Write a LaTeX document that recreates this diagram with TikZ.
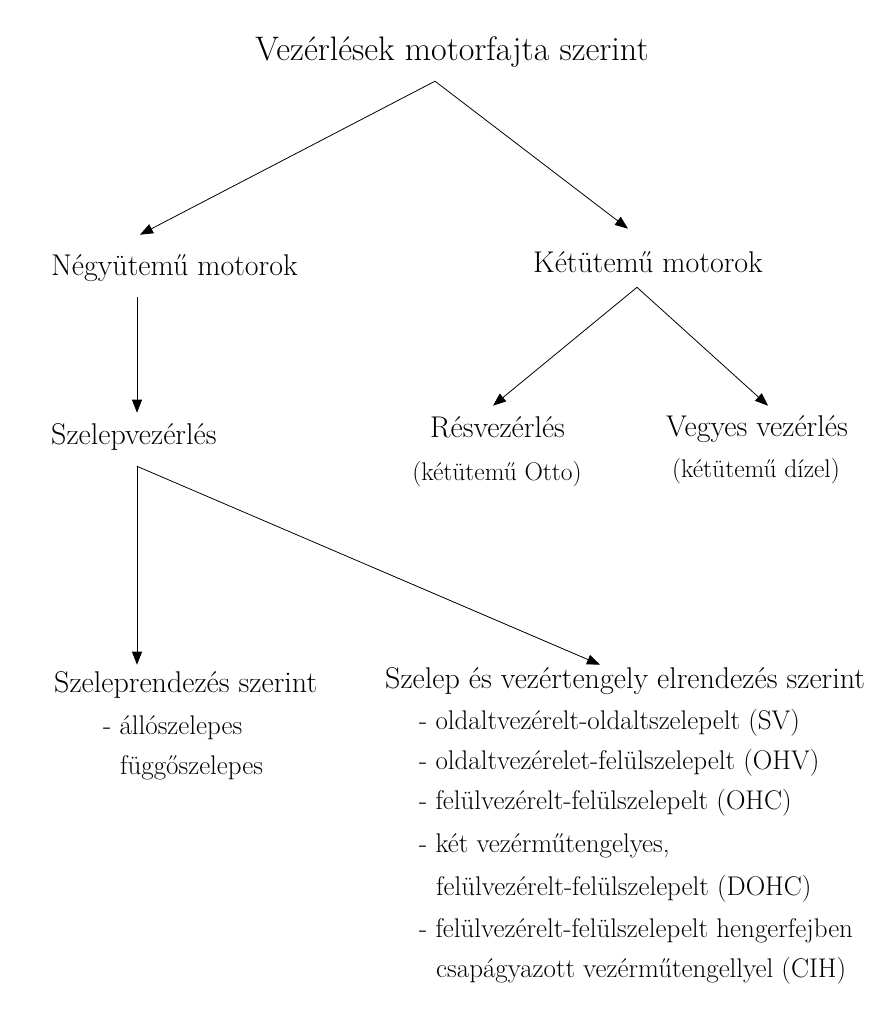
\documentclass[tikz,border=0pt]{standalone}
\usepackage{fontspec}
\usetikzlibrary{arrows.meta,calc}

\begin{document}
\begin{tikzpicture}[x=1pt, y=-1pt,
    cim/.style={inner sep=0pt, text height=24.5pt, text depth=7.5pt, font=\fontsize{34}{40}\selectfont},
    fo/.style={inner sep=0pt, text height=21.6pt, text depth=6.6pt, anchor=west, font=\fontsize{30}{36}\selectfont},
    al/.style={inner sep=0pt, text height=19.4pt, text depth=5.9pt, anchor=west, font=\fontsize{27}{32}\selectfont},
    zar/.style={inner sep=0pt, text height=18.4pt, text depth=5.6pt, font=\fontsize{25.5}{30}\selectfont},
    nyil/.style={-{Triangle[length=13pt,width=10pt]}, line width=0.8pt}]
    \useasboundingbox (0,0) rectangle (877,1010);

    % cím
    \node[cim] (cim) at (452,52) {Vezérlések motorfajta szerint};

    % négyütemű ág
    \node[fo] (negy) at (51,268) {Négyütemű motorok};
    \node[fo] (szv) at (51,437) {Szelepvezérlés};
    \node[fo] (szr) at (54,685) {Szeleprendezés szerint};
    \node[al] (allo) at (103,728) {- állószelepes};
    \node[al] (fuggo) at (120,768) {függőszelepes};

    % szelep és vezértengely szerinti felsorolás
    \node[fo] (szvt) at (385,681) {Szelep és vezértengely elrendezés szerint};
    \node[al] (sv) at (419,723) {- oldaltvezérelt-oldaltszelepelt (SV)};
    \node[al] (ohv) at (419,763) {- oldaltvezérelet-felülszelepelt (OHV)};
    \node[al] (ohc) at (419,803) {- felülvezérelt-felülszelepelt (OHC)};
    \node[al] (ket) at (419,846) {- két vezérműtengelyes,};
    \node[al] (dohc) at (436,889) {felülvezérelt-felülszelepelt (DOHC)};
    \node[al] (cih) at (419,931) {- felülvezérelt-felülszelepelt hengerfejben};
    \node[al] (cihb) at (436,971) {csapágyazott vezérműtengellyel (CIH)};

    % kétütemű ág
    \node[fo] (ketu) at (533,265) {Kétütemű motorok};
    \node[fo] (res) at (430,430) {Résvezérlés};
    \node[zar] (otto) at (497,474) {(kétütemű Otto)};
    \node[fo] (vegy) at (666,429) {Vegyes vezérlés};
    \node[zar] (dizel) at (756,471) {(kétütemű dízel)};

    % nyilak a címből
    \coordinate (csucs) at ($(cim.south)+(-17,13)$);
    \draw[nyil] (csucs) -- ($(negy.north west)+(89,-19)$);
    \draw[nyil] (csucs) -- ($(ketu.north west)+(95,-22)$);

    % nyilak a kétütemű motorokból
    \coordinate (ketcs) at ($(ketu.south west)+(104,8)$);
    \draw[nyil] (ketcs) -- ($(res.north west)+(63,-10)$);
    \draw[nyil] (ketcs) -- ($(vegy.north west)+(102,-9)$);

    % négyütemű -> szelepvezérlés
    \draw[nyil] ($(negy.south west)+(86,15)$) -- ($(szv.north west)+(86,-10)$);

    % nyilak a szelepvezérlésből
    \coordinate (szcs) at ($(szv.south west)+(86,15)$);
    \draw[nyil] (szcs) -- ($(szr.north west)+(83,-6)$);
    \draw[nyil] (szcs) -- ($(szvt.north west)+(215,-2)$);

\end{tikzpicture}
\end{document}
